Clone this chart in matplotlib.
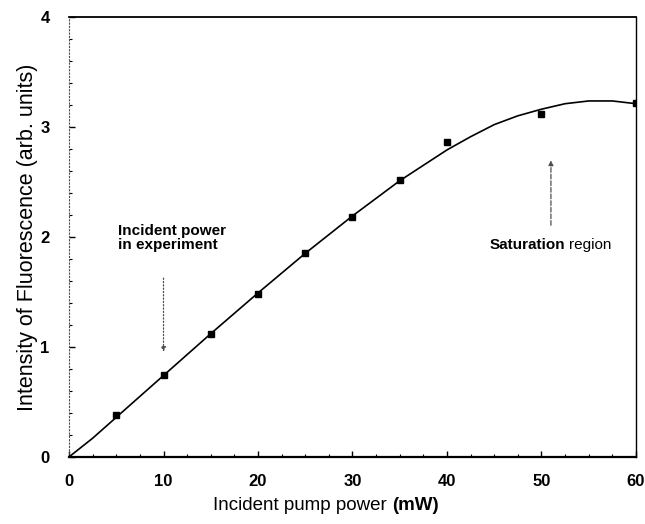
import matplotlib.pyplot as plt
import numpy as np

plt.rcParams['font.family'] = ['Liberation Sans', 'DejaVu Sans']

# measured points
power = [5, 10, 15, 20, 25, 30, 35, 40, 50, 60]
fluor = [0.38, 0.74, 1.12, 1.48, 1.85, 2.18, 2.52, 2.86, 3.12, 3.22]

# fitted curve
curve_x = [0, 2.5, 5, 7.5, 10, 15, 20, 25, 30, 35, 40, 42.5, 45, 47.5, 50, 52.5, 55, 57.5, 60]
curve_y = [0, 0.17, 0.36, 0.55, 0.74, 1.12, 1.49, 1.85, 2.19, 2.51, 2.79, 2.91, 3.02, 3.10, 3.16, 3.21, 3.235, 3.235, 3.21]

fig = plt.figure(figsize=(6.45, 5.24), dpi=100)
ax = fig.add_axes([0.107, 0.128, 0.879, 0.840])

ax.plot(curve_x, curve_y, color='black', lw=1.2)
ax.plot(power, fluor, 's', color='black', ms=5)

ax.set_xlim(0, 60)
ax.set_ylim(0, 4)
ax.set_xticks([0, 10, 20, 30, 40, 50, 60])
ax.set_yticks([0, 1, 2, 3, 4])
ax.set_xticks(np.arange(0, 61, 2.5), minor=True)
ax.set_yticks(np.arange(0, 4.01, 0.2), minor=True)
ax.tick_params(direction='in', length=4, width=1, labelsize=12)
ax.tick_params(axis='x', pad=12)
ax.tick_params(axis='y', pad=14)
ax.tick_params(which='minor', direction='in', length=2, width=0.8)
for lab in ax.get_xticklabels() + ax.get_yticklabels():
    lab.set_fontweight('bold')

ax.spines['left'].set_linestyle((0, (1, 2)))
ax.spines['left'].set_color('0.3')
ax.spines['bottom'].set_linewidth(1.6)
ax.spines['top'].set_linewidth(1.3)
ax.spines['right'].set_linewidth(1.0)

ax.set_ylabel('Intensity of Fluorescence (arb. units)', fontsize=15.5, labelpad=2)

# x label: normal text plus bold unit
t1 = fig.text(0.33, 0.02, 'Incident pump power ', fontsize=13.5, ha='left', va='bottom')
fig.canvas.draw()
bb = t1.get_window_extent().transformed(fig.transFigure.inverted())
fig.text(bb.x1, 0.02, '(mW)', fontsize=13.5, fontweight='bold', ha='left', va='bottom')

ax.text(5.2, 1.86, 'Incident power\nin experiment', fontsize=11, fontweight='bold',
        ha='left', va='bottom', linespacing=1.0)
ax.annotate('', xy=(10, 0.93), xytext=(10, 1.65),
            arrowprops=dict(arrowstyle='-|>', ls=':', color='0.3', lw=0.9, mutation_scale=7))

s1 = ax.text(44.5, 1.93, 'Saturation', fontsize=11, fontweight='bold', ha='left', va='center')
fig.canvas.draw()
sb = s1.get_window_extent().transformed(ax.transData.inverted())
ax.text(sb.x1 + 0.4, 1.93, 'region', fontsize=11, ha='left', va='center')
ax.annotate('', xy=(51, 2.72), xytext=(51, 2.08),
            arrowprops=dict(arrowstyle='-|>', ls='--', color='0.3', lw=0.9, mutation_scale=7))

plt.savefig('out.png', dpi=100)
